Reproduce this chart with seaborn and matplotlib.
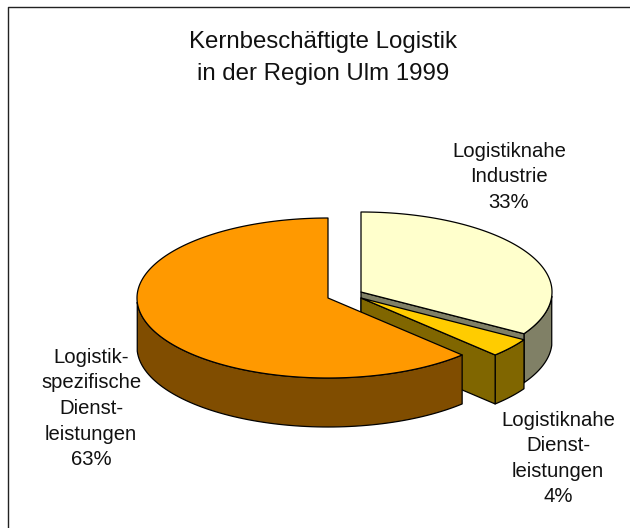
import numpy as np
import matplotlib.pyplot as plt
from matplotlib.patches import Polygon
import seaborn as sns

TITLE = "Kernbeschäftigte Logistik\nin der Region Ulm 1999"
LABELS = ["Logistiknahe\nIndustrie", "Logistiknahe\nDienst-\nleistungen", "Logistik-\nspezifische\nDienst-\nleistungen"]
SHARES = [33, 4, 63]
COLORS = ["#FFFFCC", "#FFCC00", "#FF9900"]

# layout in pixels of the 630x528 picture
APEX = [(361, 292), (361, 298), (328, 298)]
LABEL_POS = [(509, 177), (558, 458.5), (91, 408.5)]
RX, RY, DEPTH = 191, 80, 49
WARP = 3.0  # foreground is stretched a bit by the perspective


def warp(t):
    return t + np.radians(WARP) * np.sin(t)


def rim(i, t):
    t = warp(np.asarray(t))
    return APEX[i][0] + RX * np.sin(t), APEX[i][1] - RY * np.cos(t)


def poly(ax, xs, ys, color, z):
    pts = np.column_stack([xs, ys])
    ax.add_patch(Polygon(pts, closed=True, facecolor=color, edgecolor="black", linewidth=0.9, zorder=z, joinstyle="round"))


sns.set_theme(style="white")
plt.rcParams["font.family"] = ["Liberation Sans", "DejaVu Sans"]

fig = plt.figure(figsize=(6.3, 5.28), dpi=100)
ax = fig.add_axes([0, 0, 1, 1])
ax.set_xlim(0, 630)
ax.set_ylim(528, 0)
ax.axis("off")

# chart frame is cut off at the right and bottom, only two sides show
ax.plot([8, 8, 630], [528, 6.5, 6.5], color="#222222", linewidth=1.0, zorder=1)

edges = np.radians(np.concatenate([[0], np.cumsum(SHARES)]) * 3.6)
for i, color in enumerate(COLORS):
    side = tuple(c * 0.5 for c in sns.color_palette([color])[0])
    if i == 0:
        side = "#808066"
    t0, t1 = edges[i], edges[i + 1]
    z = 2 + i * 3
    cx, cy = APEX[i]

    # side wall: only the part of the rim that faces the viewer
    a, b = max(t0, np.pi / 2), min(t1, 3 * np.pi / 2)
    if a < b:
        t = np.linspace(a, b, 80)
        x, y = rim(i, t)
        poly(ax, np.r_[x, x[::-1]], np.r_[y, y[::-1] + DEPTH], side, z)

    # cut face towards the viewer
    if t1 < np.pi:
        x, y = rim(i, t1)
        poly(ax, [cx, x, x, cx], [cy, y, y + DEPTH, cy + DEPTH], side, z + 1)

    t = np.linspace(t0, t1, 200)
    x, y = rim(i, t)
    poly(ax, np.r_[cx, x], np.r_[cy, y], color, z + 2)

ax.text(323, 58, TITLE, ha="center", va="center", fontsize=17.3, color="#111111", linespacing=1.54)

for i, name in enumerate(LABELS):
    ax.text(LABEL_POS[i][0], LABEL_POS[i][1], f"{name}\n{SHARES[i]}%", ha="center", va="center",
            fontsize=14.6, color="#111111", linespacing=1.44, zorder=20)

fig.savefig("out.png", dpi=100)
plt.close(fig)
